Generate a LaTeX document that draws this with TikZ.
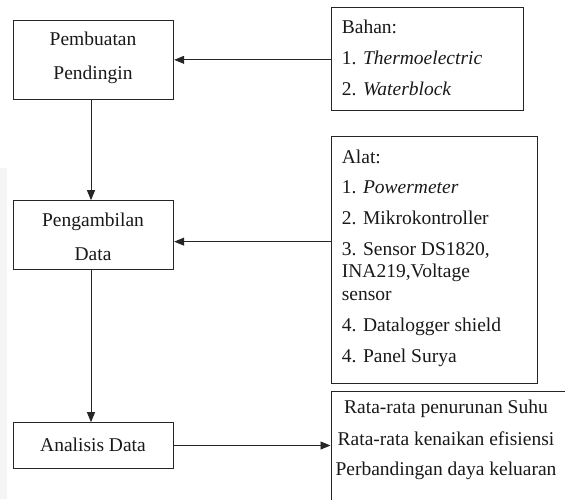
\documentclass[tikz,border=0pt]{standalone}
\usepackage{fontspec}
\setmainfont{Liberation Serif}
\usetikzlibrary{arrows.meta}
\begin{document}
\begin{tikzpicture}[x=1pt,y=-1pt,
  box/.style={draw=black!85, line width=1pt, inner sep=0pt},
  lbl/.style={inner sep=0pt, anchor=base, font=\fontsize{19.5}{22}\selectfont, text=black!90},
  lbll/.style={lbl, anchor=base west},
  conn/.style={draw=black!85, line width=0.9pt, -{Triangle[length=10pt,width=8pt]}}]
\useasboundingbox (0,0) rectangle (565,499);
\fill[black!4] (0,168) rectangle (7,499);
% boxes
\node[box, minimum width=160.4pt, minimum height=78.3pt] (b1) at (93.5,59.85) {};
\node[box, minimum width=160.4pt, minimum height=68.3pt] (b2) at (93.5,234.85) {};
\node[box, minimum width=160.4pt, minimum height=45.6pt] (b3) at (93.5,445.5) {};
\node[box, minimum width=192pt, minimum height=103.7pt] (bahan) at (427,58.85) {};
\node[box, minimum width=206pt, minimum height=247.3pt] (alat) at (434,259.65) {};
\node[box, minimum width=241pt, minimum height=115pt] (hasil) at (451.5,448.5) {};
% box texts
\node[lbl] (t1a) at (93,45) {Pembuatan};
\node[lbl] (t1b) at (93,79) {Pendingin};
\node[lbl] (t2a) at (93,226.5) {Pengambilan};
\node[lbl] (t2b) at (93,260.5) {Data};
\node[lbl] (t3) at (93,451) {Analisis Data};
% bahan
\node[lbll] (ba0) at (341.7,33) {Bahan:};
\node[lbll] (ba1) at (341.7,64) {1. \textit{Thermoelectric}};
\node[lbll] (ba2) at (341.7,95) {2. \textit{Waterblock}};
% alat
\node[lbll] (al0) at (341.7,163) {Alat:};
\node[lbll] (al1) at (341.7,193) {1. \textit{Powermeter}};
\node[lbll] (al2) at (341.7,224) {2. Mikrokontroller};
\node[lbll] (al3) at (341.7,255) {3. Sensor DS1820,};
\node[lbll] (al3b) at (341.7,277.5) {INA219,Voltage};
\node[lbll] (al3c) at (341.7,300) {sensor};
\node[lbll] (al4) at (341.7,331) {4. Datalogger shield};
\node[lbll] (al5) at (341.7,362) {4. Panel Surya};
% hasil
\node[lbl] (h1) at (446,413.5) {Rata-rata penurunan Suhu};
\node[lbl] (h2) at (446,445) {Rata-rata kenaikan efisiensi};
\node[lbl] (h3) at (446,475) {Perbandingan daya keluaran};
% connectors
\draw[conn] ([xshift=-2.5pt]b1.south) -- ([xshift=-2.5pt]b2.north);
\draw[conn] ([xshift=-2.5pt]b2.south) -- ([xshift=-2.5pt]b3.north);
\draw[conn] (b1.east -| bahan.west) -- (b1.east);
\draw[conn] ([yshift=-6.8pt]b2.east -| alat.west) -- ([yshift=-6.8pt]b2.east);
\draw[conn] (b3.east) -- (b3.east -| hasil.west);
\end{tikzpicture}
\end{document}
